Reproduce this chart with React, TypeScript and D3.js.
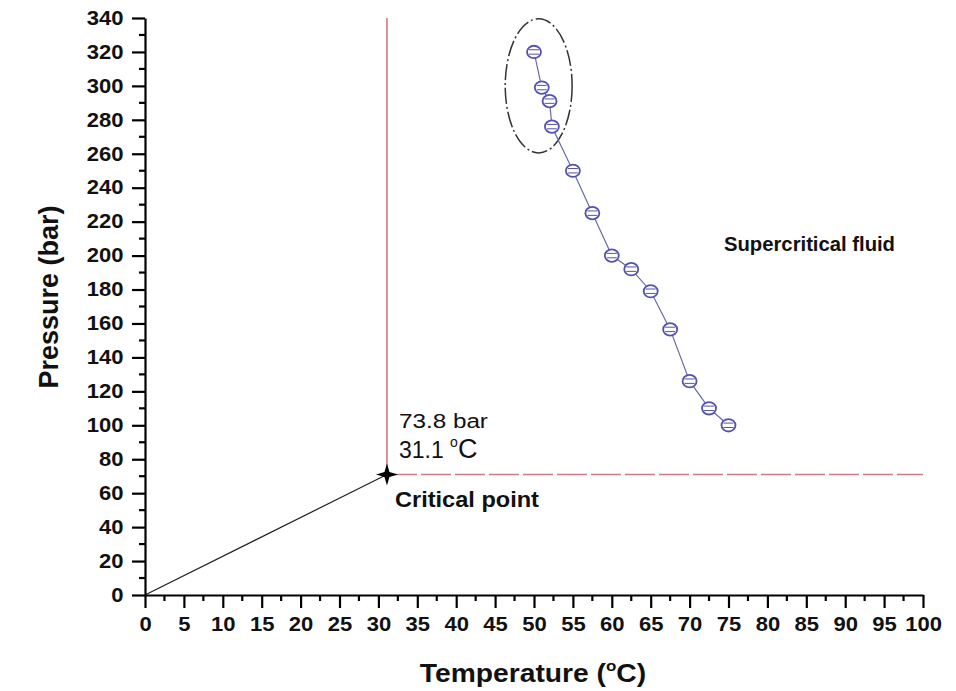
import { useEffect, useRef } from "react"
import { axisBottom, axisLeft, scaleLinear, select, line, range } from "d3"

// data
const temperature = [50, 51, 52, 52.3, 55, 57.5, 60, 62.5, 65, 67.5, 70, 72.5, 75]
const pressure = [320, 299, 291, 276, 250, 225, 200, 192, 179, 156.5, 126, 110, 100]
const xTicks = range(0, 101, 5)
const yTicks = range(0, 341, 20)
const critical = { t: 31.1, p: 71 }
const criticalLabel = ["73.8 bar", "31.1 "]

const W = 956
const H = 691
const margin = { top: 18, right: 33, bottom: 96, left: 145 }
const font = "Liberation Sans, Arial, sans-serif"

function styleAxis(g) {
  g.select(".domain").attr("stroke-width", 2.2)
  g.selectAll(".tick line").attr("stroke-width", 2.2)
  g.selectAll(".tick text")
    .attr("font-size", "19.5px")
    .attr("font-weight", "bold")
    .attr("font-family", font)
    .attr("fill", "#111")
}

function AxisX({ scale, y }) {
  const ref = useRef(null)
  useEffect(() => {
    const g = select(ref.current)
    g.call(axisBottom(scale).tickValues(xTicks).tickSize(13).tickSizeOuter(0).tickPadding(9))
    styleAxis(g)
    g.selectAll(".tick text").attr("transform", "scale(1.13,1)")
    g.selectAll(".minor").data(range(2.5, 100, 5)).join("line").attr("class", "minor")
      .attr("x1", (d) => scale(d)).attr("x2", (d) => scale(d)).attr("y1", 0).attr("y2", 6)
      .attr("stroke", "black").attr("stroke-width", 2.2)
  }, [scale])
  return <g ref={ref} transform={`translate(0,${y})`} />
}

function AxisY({ scale, x }) {
  const ref = useRef(null)
  useEffect(() => {
    const g = select(ref.current)
    g.call(axisLeft(scale).tickValues(yTicks).tickSize(13).tickSizeOuter(0).tickPadding(6))
    styleAxis(g)
    g.selectAll(".tick text").attr("transform", "scale(1.13,1)")
    g.selectAll(".minor").data(range(10, 340, 20)).join("line").attr("class", "minor")
      .attr("y1", (d) => scale(d)).attr("y2", (d) => scale(d)).attr("x1", 0).attr("x2", -6)
      .attr("stroke", "black").attr("stroke-width", 2.2)
  }, [scale])
  return <g ref={ref} transform={`translate(${x},0)`} />
}

export default function App() {
  const x = scaleLinear().domain([0, 100]).range([margin.left, W - margin.right])
  const y = scaleLinear().domain([0, 340]).range([H - margin.bottom, margin.top])
  const pts = temperature.map((t, i) => [t, pressure[i]])
  const path = line().x((d) => x(d[0])).y((d) => y(d[1]))(pts)
  const cx = x(critical.t)
  const cy = y(critical.p)
  const red = "#cc7a84"
  const blue = "#5252b0"

  return (
    <svg width={W} height={H} style={{ position: "absolute", left: 0, top: 0, background: "white" }}>
      {/* critical lines */}
      <line x1={cx} x2={cx} y1={y(340)} y2={cy} stroke={red} strokeWidth={1.6} />
      <line x1={cx} x2={x(100)} y1={cy} y2={cy} stroke={red} strokeWidth={1.6} strokeDasharray="30 4" />
      <line x1={x(0)} y1={y(0)} x2={cx} y2={cy} stroke="#222" strokeWidth={1.2} />
      <path d={`M${cx},${cy - 11} L${cx + 2.5},${cy - 2.5} L${cx + 11},${cy} L${cx + 2.5},${cy + 2.5} L${cx},${cy + 11} L${cx - 2.5},${cy + 2.5} L${cx - 11},${cy} L${cx - 2.5},${cy - 2.5} Z`} fill="black" />

      {/* dashed ellipse */}
      <ellipse cx={x(50.6)} cy={y(300)} rx={x(50.6) - x(46.3)} ry={y(260.5) - y(300)} fill="none" stroke="#333" strokeWidth={1.5} strokeDasharray="16 3 2 3" />

      {/* data */}
      <path d={path} fill="none" stroke="#6a6aa8" strokeWidth={1.2} />
      {pts.map((d, i) => (
        <g key={i} transform={`translate(${x(d[0])},${y(d[1])})`}>
          <ellipse rx={7} ry={6.2} fill="white" stroke={blue} strokeWidth={1.8} />
          <line x1={-5} x2={5} y1={-2.2} y2={-2.2} stroke={blue} strokeWidth={1} />
          <line x1={-5} x2={5} y1={2.2} y2={2.2} stroke={blue} strokeWidth={1} />
        </g>
      ))}

      <AxisX scale={x} y={y(0)} />
      <AxisY scale={y} x={x(0)} />

      {/* annotations */}
      <text x={cx + 12} y={cy - 47} fontSize="20px" fontFamily={font} fill="#111" textLength={89} lengthAdjust="spacingAndGlyphs">{criticalLabel[0]}</text>
      <text x={cx + 12} y={cy - 17} fontSize="23px" fontFamily={font} fill="#111">
        {criticalLabel[1]}
        <tspan dy={-11} fontSize="14px">o</tspan>
        <tspan dy={11} fontSize="27px">C</tspan>
      </text>
      <text x={cx + 8} y={cy + 32} fontSize="22px" fontWeight="bold" fontFamily={font} fill="#111" textLength={144} lengthAdjust="spacingAndGlyphs">Critical point</text>
      <text x={724} y={251} fontSize="20px" fontWeight="bold" fontFamily={font} fill="#111" textLength={171} lengthAdjust="spacingAndGlyphs">Supercritical fluid</text>

      <g transform={`translate(533,682) scale(1.13,1)`}>
        <text x={0} y={0} textAnchor="middle" fontSize="25px" fontWeight="bold" fontFamily={font} fill="#111">
          Temperature (<tspan dy={-11} fontSize="15px">o</tspan><tspan dy={11}>C)</tspan>
        </text>
      </g>
      <text transform={`translate(58,297) rotate(-90)`} textAnchor="middle" fontSize="27px" fontWeight="bold" fontFamily={font} fill="#111">
        Pressure (bar)
      </text>
    </svg>
  )
}
